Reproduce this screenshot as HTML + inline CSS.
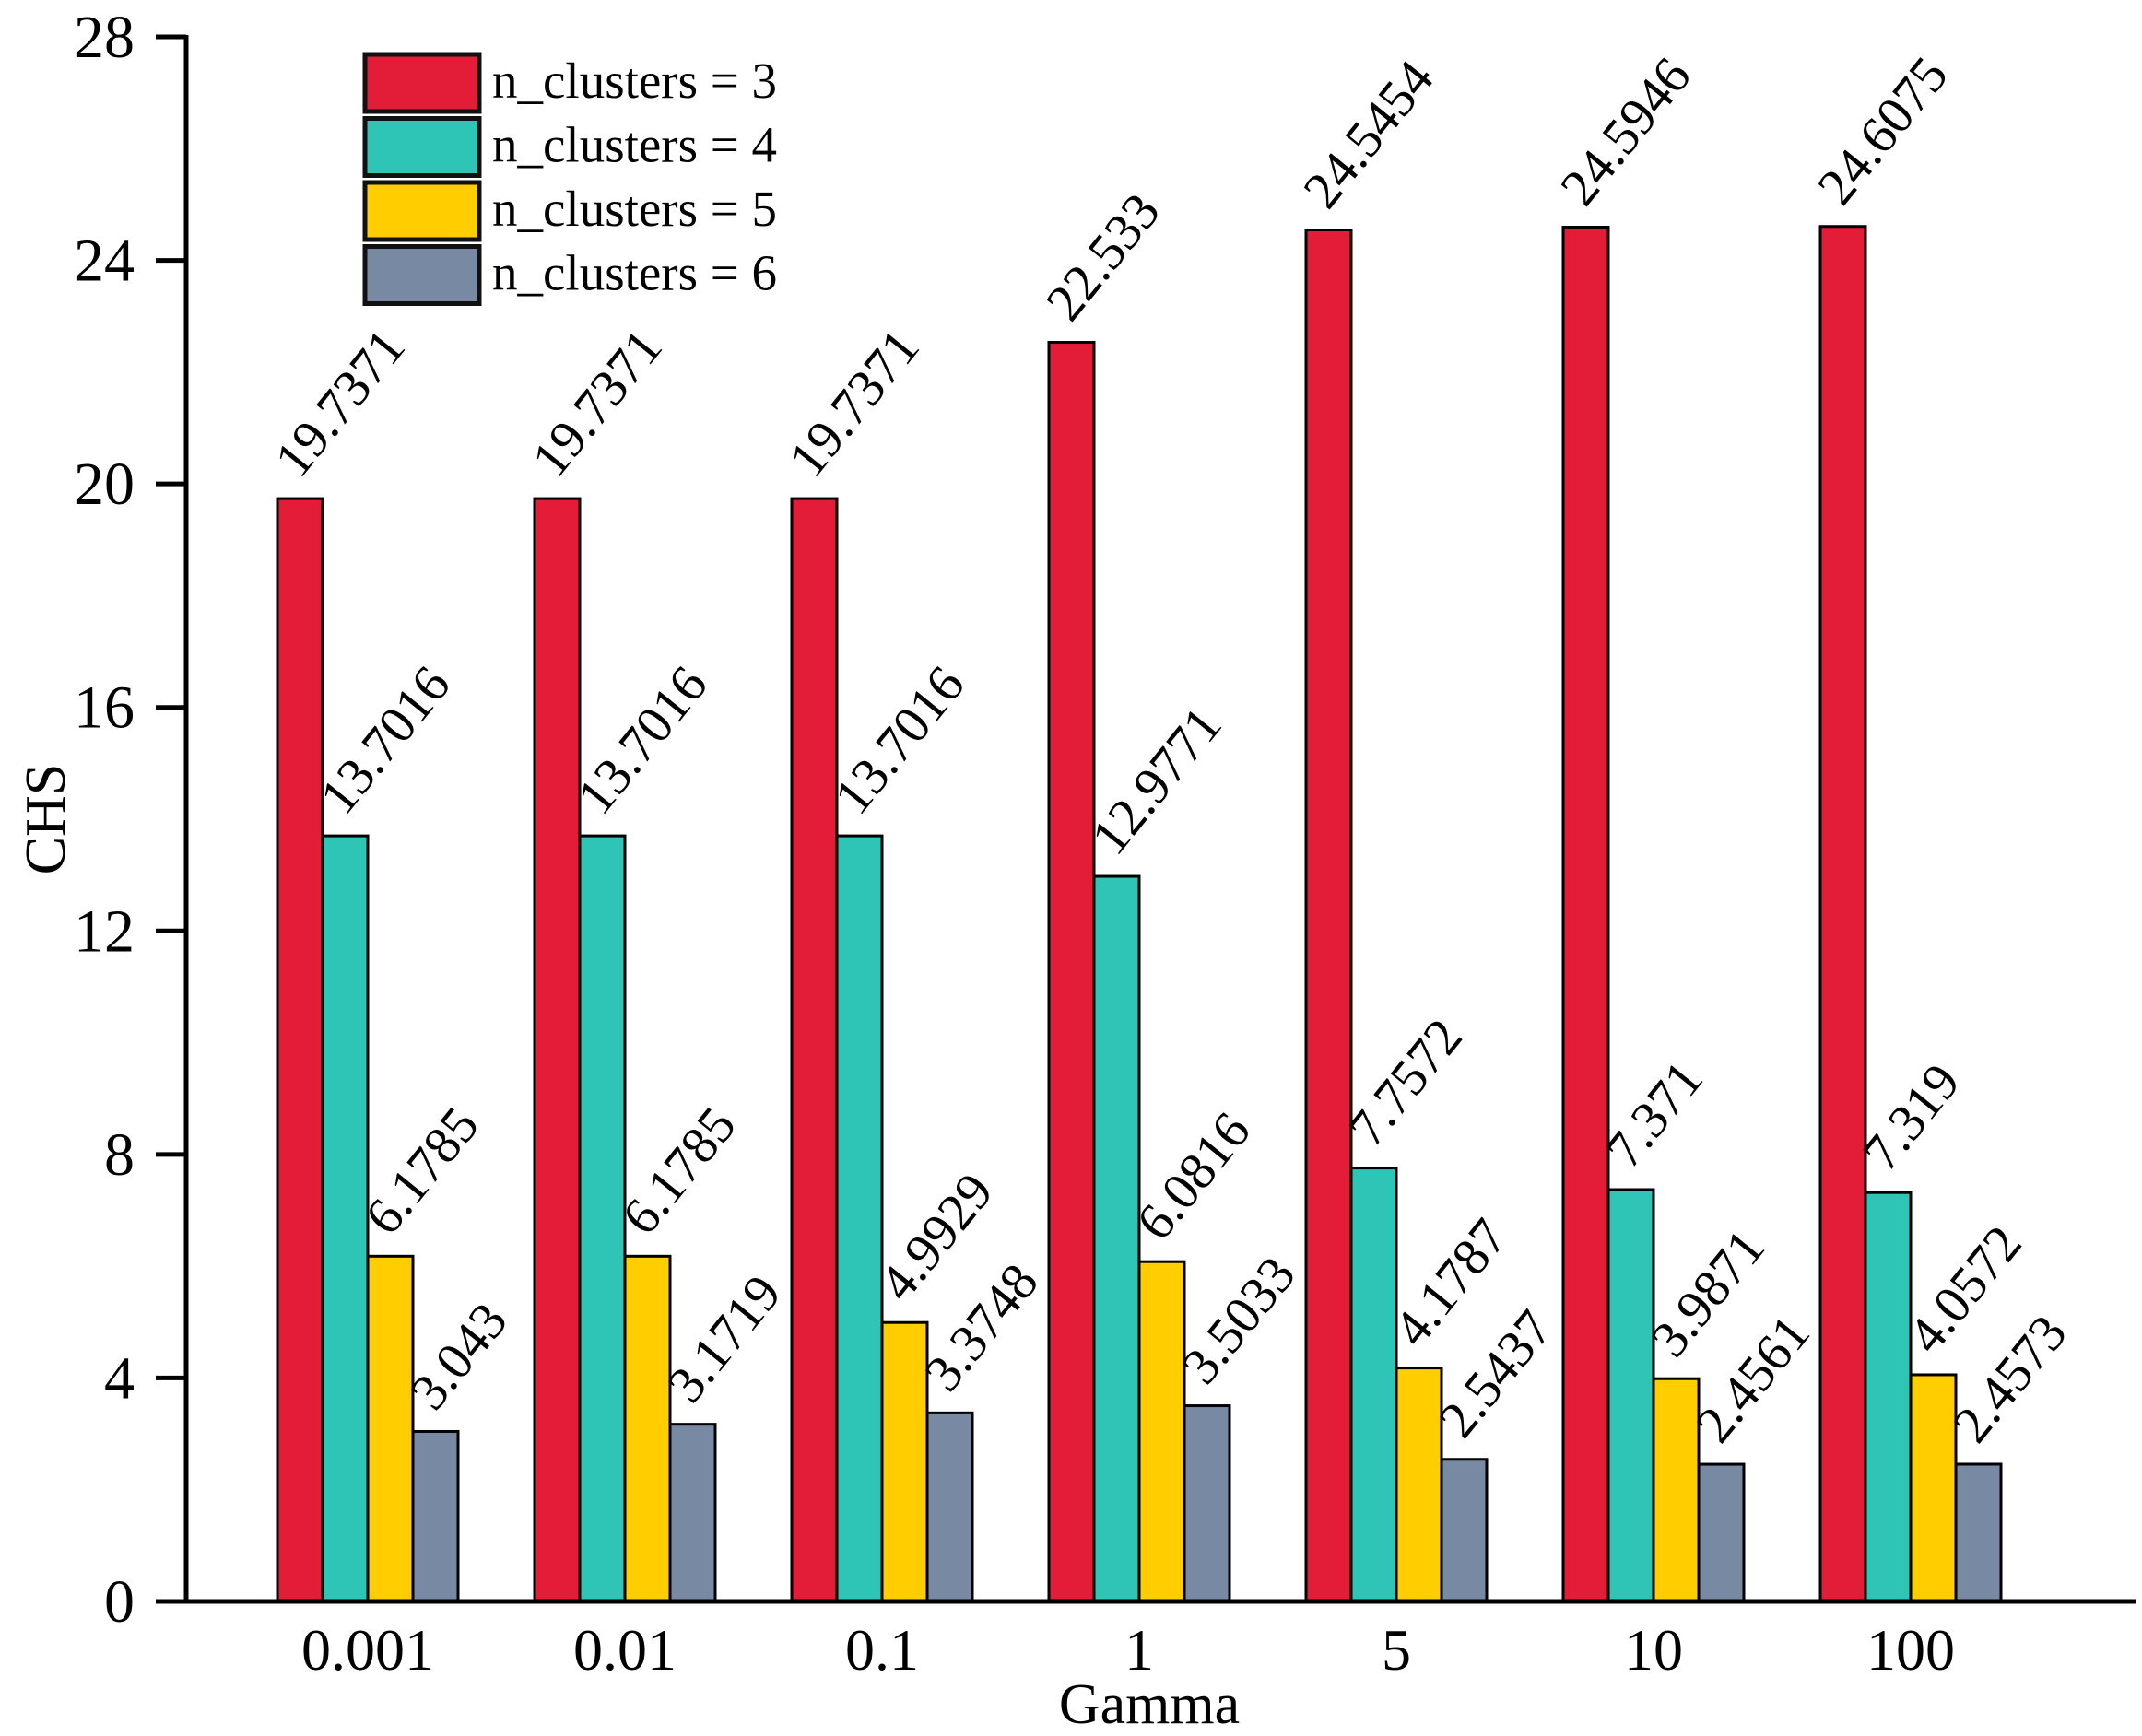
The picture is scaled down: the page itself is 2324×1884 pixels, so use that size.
<!DOCTYPE html>
<html><head><meta charset="utf-8"><style>
body{margin:0;background:#fff}
svg{display:block;font-family:"Liberation Serif",serif}
</style></head><body>
<svg width="2324" height="1884" viewBox="0 0 2324 1884">
<g id="marks"></g>
<g id="axes"></g>
<g id="legend"></g>
</svg>
<script>
const categories = ["0.001","0.01","0.1","1","5","10","100"];
const seriesNames = ["n_clusters = 3","n_clusters = 4","n_clusters = 5","n_clusters = 6"];
const s3 = [19.7371,19.7371,19.7371,22.533,24.5454,24.5946,24.6075];
const s4 = [13.7016,13.7016,13.7016,12.9771,7.7572,7.371,7.319];
const s5 = [6.1785,6.1785,4.9929,6.0816,4.1787,3.9871,4.0572];
const s6 = [3.043,3.1719,3.3748,3.5033,2.5437,2.4561,2.4573];
const valueLabels = [
 ["19.7371","19.7371","19.7371","22.533","24.5454","24.5946","24.6075"],
 ["13.7016","13.7016","13.7016","12.9771","7.7572","7.371","7.319"],
 ["6.1785","6.1785","4.9929","6.0816","4.1787","3.9871","4.0572"],
 ["3.043","3.1719","3.3748","3.5033","2.5437","2.4561","2.4573"]];
const yTicks = [0,4,8,12,16,20,24,28];
const colors = ["#e31c37","#2ec4b6","#ffcd00","#7889a4"];
const series = [s3,s4,s5,s6];
const NS="http://www.w3.org/2000/svg";
const y0=1738, yTop=40, yMax=28, axisX=202;
function yScale(v){return y0-(v/yMax)*(y0-yTop);}
function xCenter(i){return 399+279*i;}
const bw=49;
function mk(t,attrs,parent){const e=document.createElementNS(NS,t);for(const k in attrs)e.setAttribute(k,attrs[k]);parent.appendChild(e);return e;}
const marks=document.getElementById('marks'), axes=document.getElementById('axes'), legend=document.getElementById('legend');
series.forEach((s,j)=>{
  s.forEach((v,i)=>{
    const x=xCenter(i)-2*bw+j*bw, y=yScale(v);
    const r=mk('rect',{x:x,y:y,width:bw,height:y0-y,fill:colors[j],stroke:'#000','stroke-width':3},marks);
    
    
    const t=mk('text',{x:0,y:0,'font-size':57,fill:'#000',transform:'translate('+(x+24)+','+(y-20)+') rotate(-51)'},marks);
    t.textContent=valueLabels[j][i];
    
    
  });
});
let l=mk('line',{x1:axisX,y1:yTop-2,x2:axisX,y2:y0+2,stroke:'#000','stroke-width':5},axes);


l=mk('line',{x1:169,y1:y0,x2:2317,y2:y0,stroke:'#000','stroke-width':5},axes);


yTicks.forEach(v=>{
  const y=yScale(v);
  const tk=mk('line',{x1:169,y1:y,x2:axisX,y2:y,stroke:'#000','stroke-width':5},axes);
  
  
  const t=mk('text',{x:146,y:y+22,'font-size':66,'text-anchor':'end'},axes);
  t.textContent=String(v);
  
  
});
categories.forEach((c,i)=>{
  const t=mk('text',{x:xCenter(i),y:1812,'font-size':64,'text-anchor':'middle'},axes);
  t.textContent=c;
  
  
});
let t=mk('text',{x:1247,y:1870,'font-size':62,'text-anchor':'middle'},axes);
t.textContent='Gamma';


t=mk('text',{x:0,y:0,'font-size':62,'text-anchor':'middle',transform:'translate(70,889) rotate(-90)'},axes);
t.textContent='CHS';


seriesNames.forEach((n,j)=>{
  const y=59+69.5*j;
  const r=mk('rect',{x:396,y:y,width:124,height:62,fill:colors[j],stroke:'#111','stroke-width':5},legend);
  
  
  const tx=mk('text',{x:534,y:y+47,'font-size':55},legend);
  tx.textContent=n;
  
  
});
</script>
</body></html>
